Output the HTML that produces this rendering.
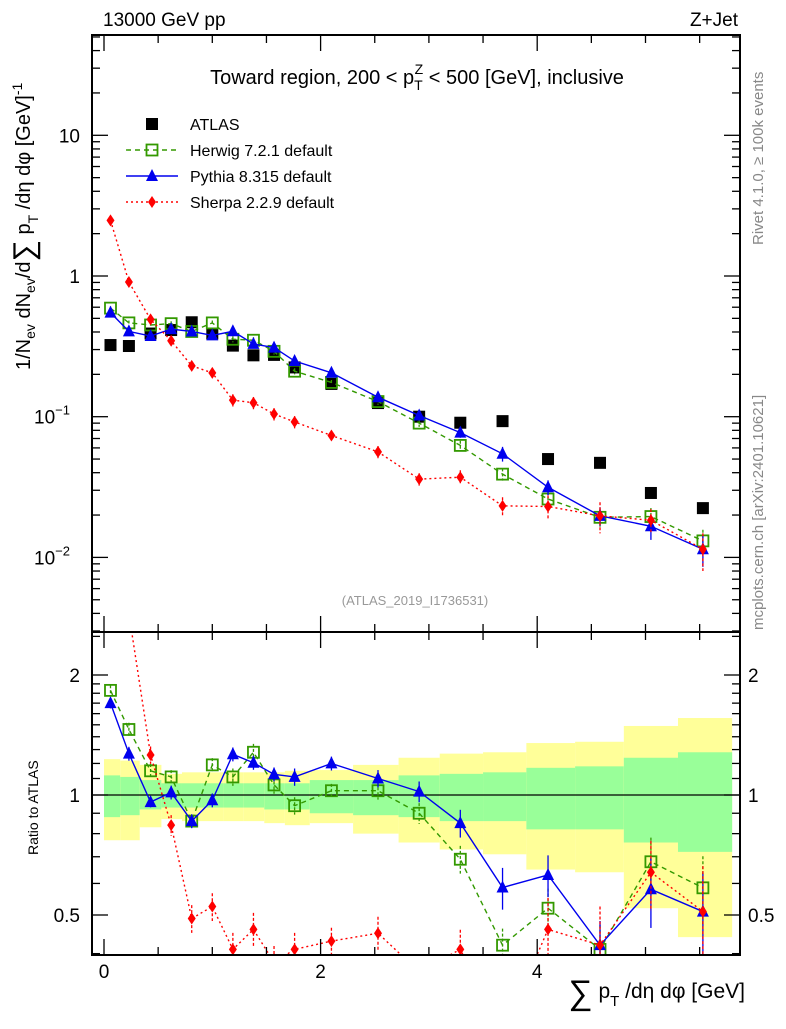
<!DOCTYPE html>
<html><head><meta charset="utf-8"><style>
body{margin:0;background:#fff}
svg{font-family:"Liberation Sans",sans-serif}
</style></head><body>
<svg id="c" width="786" height="1024" viewBox="0 0 786 1024" xmlns="http://www.w3.org/2000/svg">
<g id="bands"></g>
<g id="marks"></g>
<g id="axes"></g>
<text x="103" y="26" font-size="19">13000 GeV pp</text>
<text x="738" y="26" font-size="19" text-anchor="end">Z+Jet</text>
<text x="417" y="84" font-size="20" text-anchor="middle">Toward region, 200 &lt; p<tspan font-size="14" dy="6">T</tspan><tspan font-size="14" dx="-8" dy="-16">Z</tspan><tspan dy="10"> &lt; 500 [GeV], inclusive</tspan></text>
<text x="415" y="605" font-size="13" fill="#999" text-anchor="middle">(ATLAS_2019_I1736531)</text>
<text transform="translate(763,245) rotate(-90)" font-size="15" fill="#888">Rivet 4.1.0, ≥ 100k events</text>
<text transform="translate(763,630) rotate(-90)" font-size="15" fill="#888">mcplots.cern.ch [arXiv:2401.10621]</text>
<text transform="translate(30,370) rotate(-90)" font-size="20">1/N<tspan font-size="14" dy="5">ev</tspan><tspan dy="-5"> dN</tspan><tspan font-size="14" dy="5">ev</tspan><tspan dy="-5">/d</tspan><tspan font-size="30" dy="4">∑</tspan><tspan dy="-4"> p</tspan><tspan font-size="14" dy="8">T</tspan><tspan dy="-8"> /dη dφ  [GeV]</tspan><tspan font-size="14" dy="-8">-1</tspan></text>
<text transform="translate(38,855) rotate(-90)" font-size="14">Ratio to ATLAS</text>
<text x="745" y="998" font-size="21" text-anchor="end"><tspan font-size="34" dy="6">∑</tspan><tspan dy="-6"> p</tspan><tspan font-size="15" dy="8">T</tspan><tspan dy="-8"> /dη dφ [GeV]</tspan></text>
<g id="legend"></g>
</svg>
<script>
const xCenters=[0.06,0.23,0.43,0.62,0.81,1.0,1.19,1.38,1.57,1.76,2.1,2.53,2.91,3.29,3.68,4.1,4.58,5.05,5.53];
const binEdges=[0,0.15,0.33,0.53,0.72,0.9,1.1,1.29,1.48,1.67,1.9,2.3,2.72,3.1,3.5,3.9,4.35,4.8,5.3,5.8];
const atlas=[0.323,0.318,0.39,0.413,0.469,0.39,0.32,0.273,0.275,0.224,0.171,0.125,0.1,0.0906,0.093,0.050,0.047,0.0287,0.0224];
const herwigRatio=[1.83,1.46,1.15,1.11,0.86,1.19,1.11,1.28,1.06,0.94,1.025,1.025,0.90,0.69,0.42,0.52,0.41,0.68,0.585];
const pythiaRatio=[1.70,1.27,0.96,1.015,0.86,0.97,1.265,1.205,1.127,1.11,1.20,1.10,1.02,0.85,0.586,0.63,0.42,0.58,0.51];
const sherpaRatio=[7.7,2.85,1.26,0.84,0.49,0.525,0.41,0.46,0.38,0.41,0.43,0.45,0.36,0.41,0.25,0.46,0.42,0.64,0.51];
const herwigErr=[0.03,0.04,0.04,0.04,0.04,0.04,0.05,0.05,0.05,0.05,0.04,0.05,0.06,0.08,0.1,0.12,0.15,0.15,0.2];
const pythiaErr=[0.03,0.04,0.03,0.04,0.04,0.04,0.04,0.04,0.04,0.05,0.04,0.05,0.06,0.08,0.12,0.12,0.15,0.2,0.25];
const sherpaErr=[0.05,0.06,0.05,0.06,0.08,0.08,0.1,0.1,0.1,0.1,0.08,0.1,0.1,0.12,0.15,0.2,0.25,0.2,0.3];
const yellowUp=[1.23,1.22,1.19,1.13,1.14,1.14,1.14,1.14,1.14,1.15,1.155,1.19,1.24,1.27,1.28,1.35,1.36,1.49,1.56];
const yellowDn=[0.77,0.77,0.83,0.87,0.86,0.86,0.86,0.86,0.85,0.84,0.85,0.80,0.76,0.73,0.71,0.65,0.64,0.52,0.44];
const greenUp=[1.12,1.11,1.09,1.07,1.07,1.07,1.07,1.07,1.07,1.07,1.09,1.09,1.12,1.13,1.14,1.17,1.18,1.24,1.28];
const greenDn=[0.88,0.89,0.92,0.93,0.93,0.93,0.93,0.93,0.92,0.92,0.90,0.89,0.88,0.86,0.86,0.82,0.82,0.76,0.72];
const mainTicks=[10,1,0.1,0.01];
const mainTickLabels=["10","1","10","10"];
const mainTickExp=["","","−1","−2"];
const ratioTicks=[2,1,0.5];
const xTickLabels=[0,2,4];

const NS="http://www.w3.org/2000/svg";
const L=92,R=740,T=35,M=632,B=955;
const X=v=>104+108.3*v;
const Y=v=>276-140.7*Math.log10(v);
const YR=v=>795-120*Math.log2(v);
function el(tag,attrs,parent){const e=document.createElementNS(NS,tag);for(const k in attrs)e.setAttribute(k,attrs[k]);parent.appendChild(e);return e;}
const bands=document.getElementById('bands'),marks=document.getElementById('marks'),axes=document.getElementById('axes'),legend=document.getElementById('legend');
const clipM=el('clipPath',{id:'cm'},document.getElementById('c'));el('rect',{x:L,y:T,width:R-L,height:M-T},clipM);
const clipR=el('clipPath',{id:'cr'},document.getElementById('c'));el('rect',{x:L,y:M,width:R-L,height:B-M},clipR);
for(let i=0;i<xCenters.length;i++){
 const x0=X(binEdges[i]),x1=X(binEdges[i+1]);
 const y=el('rect',{x:x0,y:YR(yellowUp[i]),width:x1-x0,height:YR(yellowDn[i])-YR(yellowUp[i]),fill:'#ffff99'},bands);
 
 
 const g=el('rect',{x:x0,y:YR(greenUp[i]),width:x1-x0,height:YR(greenDn[i])-YR(greenUp[i]),fill:'#99ff99'},bands);
 
 
}
const ref=el('line',{x1:L,x2:R,y1:YR(1),y2:YR(1),stroke:'#000','stroke-width':1.3},bands);


const series=[
 {name:'herwig',ratio:herwigRatio,err:herwigErr,color:'#339900',dash:'5,4',marker:'sq'},
 {name:'pythia',ratio:pythiaRatio,err:pythiaErr,color:'#0000ee',dash:'',marker:'tri'},
 {name:'sherpa',ratio:sherpaRatio,err:sherpaErr,color:'#ff0000',dash:'2,3',marker:'dia'}];
function marker(type,x,y,color,parent){
 let m;
 if(type==='sq')m=el('rect',{x:x-5.5,y:y-5.5,width:11,height:11,fill:'none',stroke:color,'stroke-width':1.8},parent);
 else if(type==='tri')m=el('polygon',{points:`${x},${y-7} ${x-6},${y+5} ${x+6},${y+5}`,fill:color},parent);
 else if(type==='dia')m=el('polygon',{points:`${x},${y-6} ${x-4},${y} ${x},${y+6} ${x+4},${y}`,fill:color},parent);
 else m=el('rect',{x:x-6,y:y-6,width:12,height:12,fill:'#000'},parent);
 return m;
}
const ga=el('g',{'clip-path':'url(#cm)'},marks);


atlas.forEach((v,i)=>{const m=marker('atlas',X(xCenters[i]),Y(v),'#000',ga);
 
 });
series.forEach(s=>{
 const gm=el('g',{'clip-path':'url(#cm)'},marks);
 
 
 const gr=el('g',{'clip-path':'url(#cr)'},marks);
 
 
 const ptsM=[],ptsR=[];
 xCenters.forEach((xc,i)=>{const v=atlas[i]*s.ratio[i];ptsM.push([X(xc),Y(v)]);ptsR.push([X(xc),YR(s.ratio[i])]);});
 const ln=el('polyline',{points:ptsM.map(p=>p.join(',')).join(' '),fill:'none',stroke:s.color,'stroke-width':1.4,'stroke-dasharray':s.dash},gm);
 
 
 const lr=el('polyline',{points:ptsR.map(p=>p.join(',')).join(' '),fill:'none',stroke:s.color,'stroke-width':1.4,'stroke-dasharray':s.dash},gr);
 
 
 xCenters.forEach((xc,i)=>{
  const r=s.ratio[i],e=s.err[i],x=X(xc),v=atlas[i]*r;
  const eb=el('line',{x1:x,x2:x,y1:YR(r*(1+e)),y2:YR(r*(1-e)),stroke:s.color,'stroke-width':1.3,'stroke-dasharray':s.dash?'3,2':''},gr);
  
  
  const em=el('line',{x1:x,x2:x,y1:Y(v*(1+e)),y2:Y(v*(1-e)),stroke:s.color,'stroke-width':1.3,'stroke-dasharray':s.dash?'3,2':''},gm);
  
  
  const m1=marker(s.marker,ptsM[i][0],ptsM[i][1],s.color,gm);
  
  
  const m2=marker(s.marker,ptsR[i][0],ptsR[i][1],s.color,gr);
  
  
 });
});
[[T,M],[M,B]].forEach(([a,b])=>{const f=el('rect',{x:L,y:a,width:R-L,height:b-a,fill:'none',stroke:'#000','stroke-width':2},axes);
 
 });
function tick(x1,y1,x2,y2){const t=el('line',{x1,y1,x2,y2,stroke:'#000','stroke-width':1.3},axes);
 
 }
for(let d=-3;d<=1;d++){for(let k=1;k<10;k++){const v=k*Math.pow(10,d);const y=Y(v);if(y<T||y>M)continue;const len=k===1?16:8;tick(L,y,L+len,y);tick(R,y,R-len,y);}}
mainTicks.forEach((v,i)=>{const t=el('text',{x:80,y:Y(v)+7,'font-size':19,'text-anchor':'end'},axes);
 t.textContent=mainTickLabels[i];
 if(mainTickExp[i]){t.setAttribute('x',70);const s=el('tspan',{'font-size':13,dy:-9},t);s.textContent=mainTickExp[i];}
 
 });
[0.4,0.5,0.6,0.7,0.8,0.9,1,1.1,1.2,1.3,1.4,1.5,1.6,1.7,1.8,1.9,2,2.5].forEach(v=>{const y=YR(v);if(y<M||y>B)return;const len=(v===1||v===2||v===0.5)?16:8;tick(L,y,L+len,y);tick(R,y,R-len,y);});
ratioTicks.forEach(v=>{
 const t=el('text',{x:80,y:YR(v)+7,'font-size':19,'text-anchor':'end'},axes);t.textContent=String(v);
 
 
 const t2=el('text',{x:748,y:YR(v)+7,'font-size':19},axes);t2.textContent=String(v);
 
 });
for(let v=0;v<=5.9;v+=0.5){const x=X(v);const maj=Math.abs(v-Math.round(v/2)*2)<1e-6;const len=maj?16:8;tick(x,T,x,T+len);tick(x,M,x,M-len);tick(x,M,x,M+len);tick(x,B,x,B-len);}
xTickLabels.forEach(v=>{const t=el('text',{x:X(v),y:978,'font-size':19,'text-anchor':'middle'},axes);t.textContent=String(v);
 
 });
const leg=[['ATLAS','atlas','#000',''],['Herwig 7.2.1 default','sq','#339900','5,4'],['Pythia 8.315 default','tri','#0000ee',''],['Sherpa 2.2.9 default','dia','#ff0000','2,3']];
leg.forEach((l,i)=>{const y=124+26*i;
 const g=el('g',{},legend);
 
 
 if(l[1]!=='atlas')el('line',{x1:126,x2:178,y1:y,y2:y,stroke:l[2],'stroke-width':1.4,'stroke-dasharray':l[3]},g);
 marker(l[1],152,y,l[2],g);
 const t=el('text',{x:190,y:y+6,'font-size':16},g);t.textContent=l[0];});
</script>
</body></html>
